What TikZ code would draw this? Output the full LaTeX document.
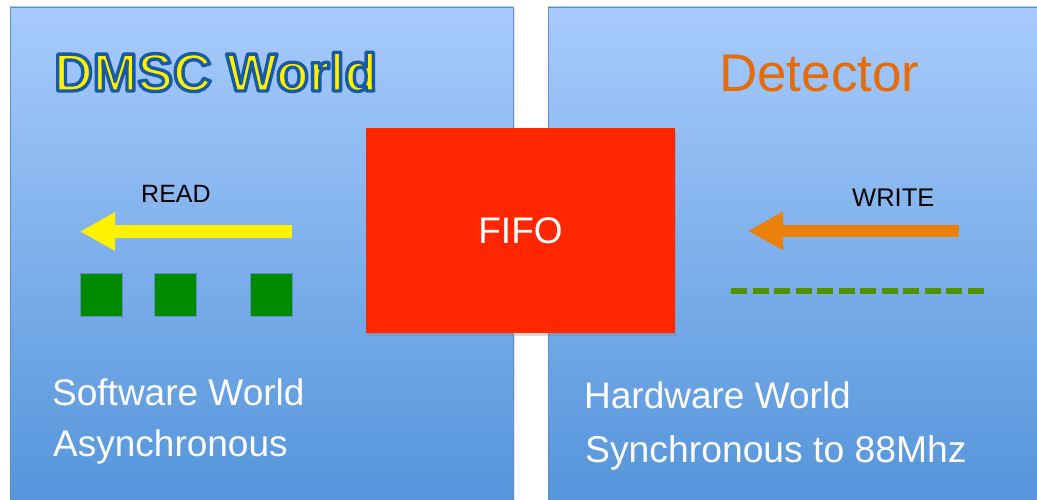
\documentclass[tikz,border=0pt]{standalone}
\usepackage{fontspec}
\setmainfont{Liberation Sans}
\usetikzlibrary{arrows.meta,shadows}
\definecolor{panelTop}{RGB}{168,203,252}
\definecolor{panelBot}{RGB}{80,146,217}
\definecolor{panelEdge}{RGB}{98,140,196}
\definecolor{fifoRed}{RGB}{255,38,0}
\definecolor{detOrange}{RGB}{228,108,10}
\definecolor{arrOrange}{RGB}{235,128,10}
\definecolor{blkGreen}{RGB}{0,138,0}
\definecolor{dashGreen}{RGB}{80,145,0}
% outlined title text (blue stroke round yellow fill)
\newcommand\outlined[1]{\special{pdf:literal direct q 0.1 0.353 0.647 RG 3.4 w 1 j 2 Tr}#1\special{pdf:literal direct 0 Tr Q}}
\begin{document}
\begin{tikzpicture}[x=1pt,y=-1pt,
    panel/.style={draw=panelEdge,line width=0.8pt,top color=panelTop,bottom color=panelBot,
      drop shadow={opacity=0.2,shadow xshift=2pt,shadow yshift=-2pt}},
    txt/.style={inner sep=0pt,anchor=base west,text=white,font=\fontsize{37}{37}\selectfont},
    lbl/.style={inner sep=0pt,anchor=base west,text=black,font=\fontsize{25}{25}\selectfont},
    blk/.style={fill=blkGreen,draw=panelEdge,line width=1pt,minimum width=42pt,minimum height=43pt,
      inner sep=0pt,anchor=north west},
    fatarrow/.style={line width=12pt,-{Triangle[length=35pt,width=36pt]}}]
    \useasboundingbox (0,0) rectangle (1037,500);
    \clip (0,0) rectangle (1037,500);
    \fill[white] (0,0) rectangle (1037,500);
    % the two worlds
    \draw[panel] (10,7) rectangle (513,530);
    \draw[panel] (548,7) rectangle (1060,530);
    \node[inner sep=0pt,anchor=base west,text=yellow,font=\fontsize{53.5}{53.5}\selectfont\bfseries]
        (dmsc) at (54,91) {\outlined{DMSC World}};
    \node[inner sep=0pt,anchor=base west,text=detOrange,font=\fontsize{53}{53}\selectfont]
        (detector) at (719,92) {Detector};
    % read side
    \node[lbl] (read) at (141,203) {READ};
    \coordinate (readtail) at (292,231.5);
    \coordinate (readtip) at (80,231.5);
    \draw[fatarrow,yellow] (readtail) -- (readtip);
    \foreach \x [count=\i] in {80,154,250}
        \node[blk] (sq\i) at (\x,273) {};
    % write side
    \node[lbl,font=\fontsize{25.5}{25.5}\selectfont] (write) at (852,207) {WRITE};
    \coordinate (writetail) at (959,231);
    \coordinate (writetip) at (748,231);
    \draw[fatarrow,arrOrange] (writetail) -- (writetip);
    \coordinate (dashL) at (731,291);
    \coordinate (dashR) at (989,291);
    \draw[dashGreen,line width=5.5pt,dash pattern=on 16pt off 5.5pt] (dashL) -- (dashR);
    % the fifo between them
    \node[fill=fifoRed,minimum width=309pt,minimum height=205pt,inner sep=0pt,text=white,
        font=\fontsize{37}{37}\selectfont,drop shadow={opacity=0.3,shadow xshift=1pt,shadow yshift=-3pt}]
        (fifo) at (520.5,230.5) {FIFO};
    \node[txt] (sw) at (52,405) {Software World};
    \node[txt] (async) at (53,456) {Asynchronous};
    \node[txt] (hw) at (584,408) {Hardware World};
    \node[txt,font=\fontsize{37.3}{37.3}\selectfont] (sync) at (585,462) {Synchronous to 88Mhz};
\end{tikzpicture}
\end{document}
